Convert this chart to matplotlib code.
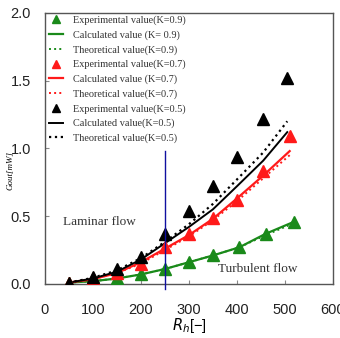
import matplotlib
matplotlib.use("Agg")
import matplotlib.pyplot as plt
from matplotlib import font_manager

# Reynolds numbers for each series
rh_k09 = [50, 100, 150, 200, 250, 300, 350, 405, 460, 520]
rh_k07 = [50, 100, 150, 200, 250, 300, 350, 400, 455, 510]
rh_k05 = [50, 100, 150, 200, 250, 300, 350, 400, 455, 505]

# Output power Gout [mW]
exp_k09 = [0.01, 0.02, 0.04, 0.07, 0.11, 0.16, 0.21, 0.27, 0.37, 0.46]
calc_k09 = [0.01, 0.02, 0.04, 0.07, 0.11, 0.16, 0.21, 0.27, 0.37, 0.46]
theo_k09 = [0.01, 0.02, 0.04, 0.07, 0.11, 0.16, 0.21, 0.27, 0.36, 0.45]

exp_k07 = [0.01, 0.04, 0.08, 0.15, 0.27, 0.37, 0.49, 0.62, 0.83, 1.09]
calc_k07 = [0.01, 0.035, 0.08, 0.16, 0.26, 0.36, 0.48, 0.63, 0.80, 0.98]
theo_k07 = [0.01, 0.035, 0.08, 0.15, 0.25, 0.35, 0.47, 0.61, 0.78, 0.95]

exp_k05 = [0.01, 0.05, 0.11, 0.20, 0.37, 0.54, 0.72, 0.94, 1.22, 1.52]
calc_k05 = [0.01, 0.04, 0.09, 0.18, 0.30, 0.42, 0.55, 0.72, 0.91, 1.12]
theo_k05 = [0.01, 0.045, 0.10, 0.19, 0.31, 0.44, 0.59, 0.77, 0.97, 1.20]

rh_transition = 250
x_ticks = [0, 100, 200, 300, 400, 500, 600]
y_ticks = [0.0, 0.5, 1.0, 1.5, 2.0]

names = {f.name for f in font_manager.fontManager.ttflist}
tick_font = "Liberation Sans Narrow" if "Liberation Sans Narrow" in names else "Liberation Sans"
serif = "Liberation Serif"

fig = plt.figure(figsize=(3.4, 3.38), dpi=100)
ax = fig.add_axes([0.132, 0.160, 0.847, 0.802])

green = "#1a8a1a"
red = "#ff1a1a"
ms = 8

ax.plot(rh_k09, exp_k09, "^", color=green, ms=ms, label="Experimental value(K=0.9)", zorder=4)
ax.plot(rh_k09, calc_k09, "-", color=green, lw=1.6, label="Calculated value (K= 0.9)")
ax.plot(rh_k09, theo_k09, ":", color=green, lw=1.4, label="Theoretical value(K=0.9)")

ax.plot(rh_k07, exp_k07, "^", color=red, ms=ms, label="Experimental value(K=0.7)", zorder=4)
ax.plot(rh_k07, calc_k07, "-", color=red, lw=1.6, label="Calculated value (K=0.7)")
ax.plot(rh_k07, theo_k07, ":", color=red, lw=1.4, label="Theoretical value(K=0.7)")

ax.plot(rh_k05, exp_k05, "^", color="black", ms=ms, label="Experimental value(K=0.5)", zorder=4)
ax.plot(rh_k05, calc_k05, "-", color="black", lw=1.4, label="Calculated value(K=0.5)")
ax.plot(rh_k05, theo_k05, ":", color="black", lw=1.6, label="Theoretical value(K=0.5)")

# laminar / turbulent boundary
ax.plot([rh_transition, rh_transition], [-0.04, 0.98], color="#1010a0", lw=1.0,
        clip_on=False, zorder=5)

ax.text(37, 0.46, "Laminar flow", family=serif, fontsize=9.5, color="#333333", va="center")
ax.text(444, 0.11, "Turbulent flow", family=serif, fontsize=9.5, color="#333333",
        va="center", ha="center")

ax.set_xlim(0, 600)
ax.set_ylim(0, 2.0)
ax.set_xticks(x_ticks)
ax.set_yticks(y_ticks)
ax.set_yticklabels([f"{v:.1f}" for v in y_ticks])
ax.tick_params(direction="in", length=3, color="#888888", labelsize=10.5)
ax.tick_params(axis="x", pad=14)
ax.tick_params(axis="y", pad=10)
for lab in ax.get_xticklabels() + ax.get_yticklabels():
    lab.set_family(tick_font)
    lab.set_color("#222222")
for sp in ax.spines.values():
    sp.set_color("#555555")
    sp.set_linewidth(1.0)

ax.set_xlabel(r"$R_h$[−]", family=tick_font, fontsize=10.5, labelpad=-1)
ax.set_ylabel("Gout[mW]", family=serif, style="italic", fontsize=6.5)
ax.yaxis.set_label_coords(-0.105, 0.42)

ax.legend(loc="upper left", bbox_to_anchor=(0.015, 0.99), frameon=False,
          prop={"family": serif, "size": 7.4}, labelspacing=0.5, handlelength=1.3,
          handletextpad=1.0, borderpad=0.0, borderaxespad=0.0, markerscale=0.75)
for t in ax.get_legend().get_texts():
    t.set_color("#333333")

fig.savefig("out.png", dpi=100)
